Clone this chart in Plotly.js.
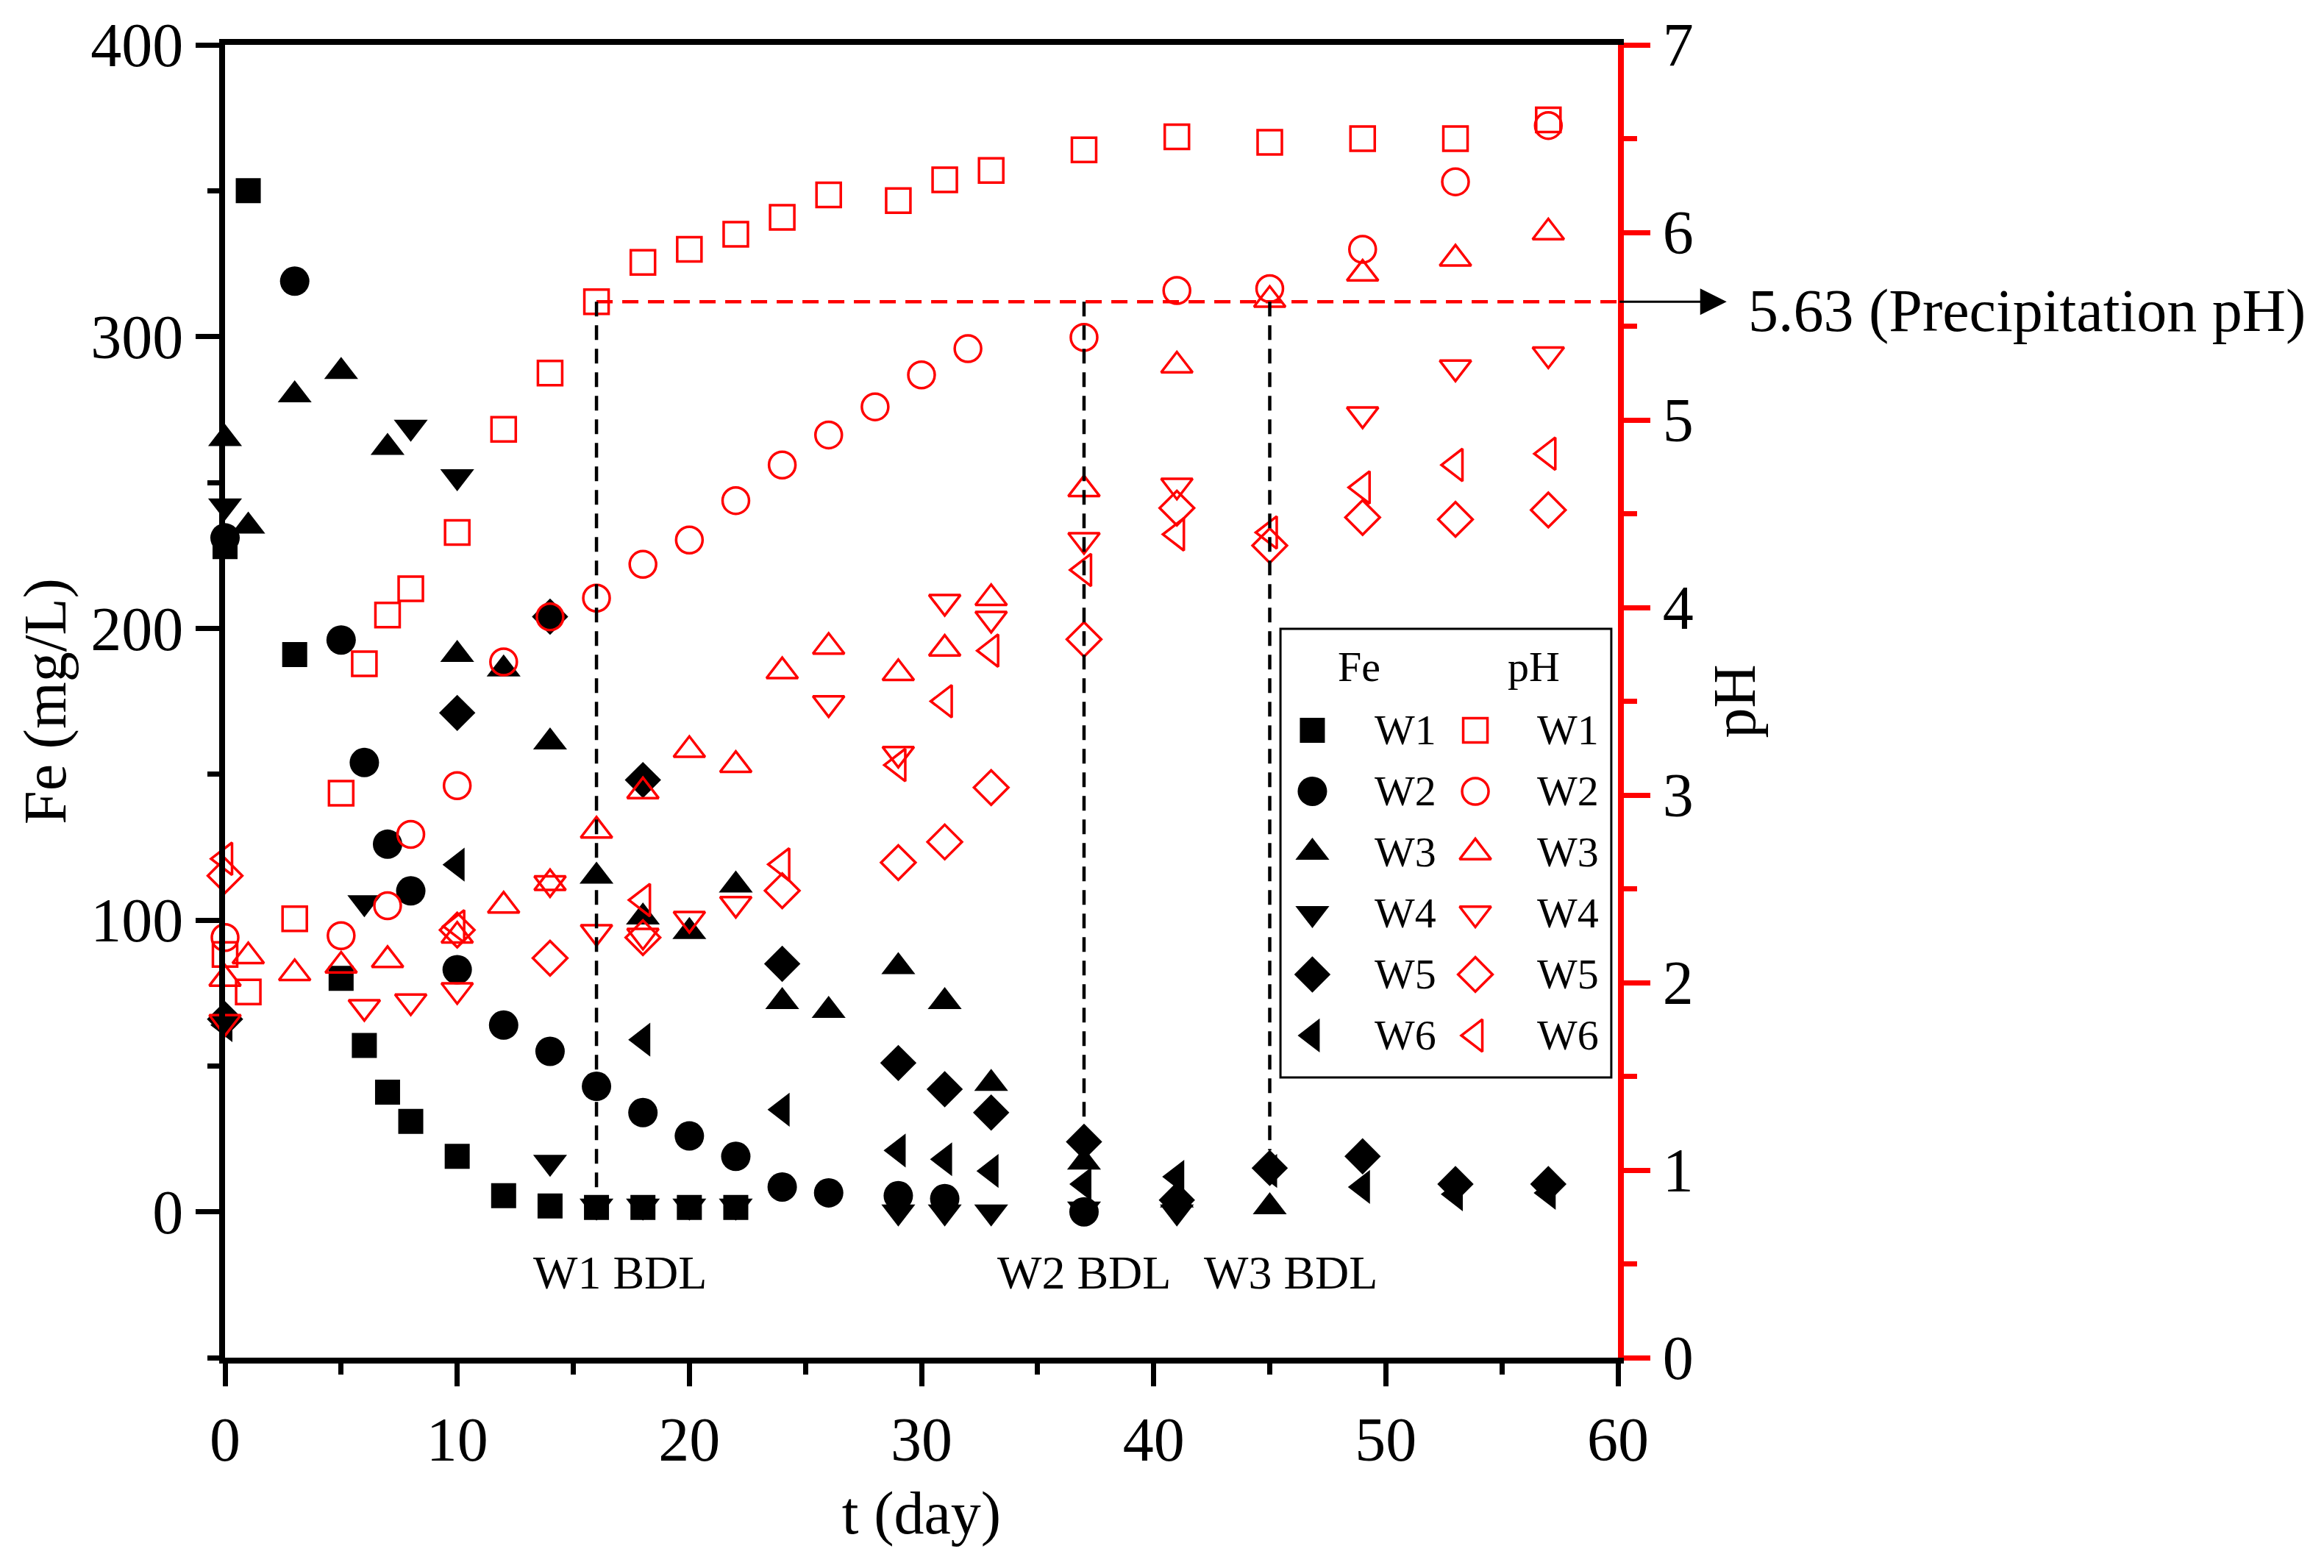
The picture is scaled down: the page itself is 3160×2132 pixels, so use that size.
<!DOCTYPE html>
<html>
<head>
<meta charset="utf-8">
<script src="https://cdn.plot.ly/plotly-3.0.1.min.js"></script>
<style>
  html, body { margin: 0; padding: 0; background: #fff; }
  #graphs-div { width: 3160px; height: 2132px; }
</style>
</head>
<body>
<div id="graphs-div"></div>
<script>
// SAMPLE NAMES
const wells = ['W1', 'W2', 'W3', 'W4', 'W5', 'W6'];

// FE CONCENTRATION (mg/L) AGAINST TIME (day)
const feDaysW1 = [0, 1, 3, 5, 6, 7, 8, 10, 12, 14, 16, 18, 20, 22];
const feW1 = [228, 350, 191, 80, 57, 41, 31, 19, 5.5, 2, 1.5, 1.5, 1.5, 1.5];
const feDaysW2 = [0, 3, 5, 6, 7, 8, 10, 12, 14, 16, 18, 20, 22, 24, 26, 29, 31, 37];
const feW2 = [231, 319, 196, 154, 126, 110, 83, 64, 55, 43, 34, 26, 19, 8.5, 6.5, 5.5, 4.5, 0];
const feDaysW3 = [0, 1, 3, 5, 7, 10, 12, 14, 16, 18, 20, 22, 24, 26, 29, 31, 33, 37, 41, 45];
const feW3 = [265, 235, 280, 288, 262, 191, 186, 161, 115, 101, 96, 112, 72, 69, 84, 72, 44, 17, 4, 1.7];
const feDaysW4 = [0, 6, 8, 10, 14, 16, 18, 20, 22, 29, 31, 33, 37, 41];
const feW4 = [242, 106, 269, 252, 17, 2, 2, 2, 2, 0, 0, 0, 1, 0];
const feDaysW5 = [0, 10, 14, 18, 24, 29, 31, 33, 37, 41, 45, 49, 53, 57];
const feW5 = [66, 171, 204, 148, 85, 51, 42, 34, 24, 4, 15, 19, 9.5, 9.5];
const feDaysW6 = [0, 10, 18, 24, 29, 31, 33, 37, 41, 45, 49, 53, 57];
const feW6 = [64, 119, 59, 35, 21, 18, 14, 9.5, 12, 14, 8.5, 6, 6.5];

// PH AGAINST TIME (day)
const phDaysW1 = [0, 1, 3, 5, 6, 7, 8, 10, 12, 14, 16, 18, 20, 22, 24, 26, 29, 31, 33, 37, 41, 45, 49, 53, 57];
const phW1 = [2.15, 1.95, 2.34, 3.01, 3.70, 3.96, 4.10, 4.40, 4.95, 5.25, 5.63, 5.84, 5.91, 5.99, 6.08, 6.20, 6.17, 6.28, 6.33, 6.44, 6.51, 6.48, 6.50, 6.50, 6.60];
const phDaysW2 = [0, 5, 7, 8, 10, 12, 14, 16, 18, 20, 22, 24, 26, 28, 30, 32, 37, 41, 45, 49, 53, 57];
const phW2 = [2.24, 2.25, 2.41, 2.79, 3.05, 3.71, 3.95, 4.05, 4.23, 4.36, 4.57, 4.76, 4.92, 5.07, 5.24, 5.38, 5.44, 5.69, 5.70, 5.91, 6.27, 6.57];
const phDaysW3 = [0, 1, 3, 5, 7, 10, 12, 14, 16, 18, 20, 22, 24, 26, 29, 31, 33, 37, 41, 45, 49, 53, 57];
const phW3 = [2.02, 2.14, 2.05, 2.09, 2.12, 2.25, 2.41, 2.53, 2.81, 3.02, 3.24, 3.16, 3.66, 3.79, 3.65, 3.78, 4.05, 4.63, 5.29, 5.64, 5.78, 5.86, 6.00];
const phDaysW4 = [0, 6, 8, 10, 14, 16, 18, 20, 22, 26, 29, 31, 33, 37, 41, 49, 53, 57];
const phW4 = [1.79, 1.87, 1.90, 1.96, 2.53, 2.27, 2.25, 2.34, 2.42, 3.49, 3.22, 4.03, 3.94, 4.36, 4.65, 5.03, 5.28, 5.35];
const phDaysW5 = [0, 10, 14, 18, 24, 29, 31, 33, 37, 41, 45, 49, 53, 57];
const phW5 = [2.57, 2.28, 2.13, 2.24, 2.49, 2.64, 2.75, 3.04, 3.83, 4.53, 4.33, 4.48, 4.47, 4.52];
const phDaysW6 = [0, 10, 18, 24, 29, 31, 33, 37, 41, 45, 49, 53, 57];
const phW6 = [2.66, 2.30, 2.44, 2.63, 3.16, 3.50, 3.77, 4.20, 4.39, 4.40, 4.64, 4.76, 4.82];

// PRECIPITATION PH AND THE DAYS EACH WELL WENT BELOW DETECTION LIMIT
const precipitationPH = 5.63;
const bdlDays = [16, 37, 45];
const bdlLabels = ['W1 BDL', 'W2 BDL', 'W3 BDL'];
const bdlLineBottomFe = [5, 29, 21];

const feDays = [feDaysW1, feDaysW2, feDaysW3, feDaysW4, feDaysW5, feDaysW6];
const feValues = [feW1, feW2, feW3, feW4, feW5, feW6];
const phDays = [phDaysW1, phDaysW2, phDaysW3, phDaysW4, phDaysW5, phDaysW6];
const phValues = [phW1, phW2, phW3, phW4, phW5, phW6];

// AXIS RANGES
const FE_RANGE = [-50, 400];
const PH_RANGE = [0, 7];
const FONT = '"Liberation Serif", "Times New Roman", serif';

// marker look for each well (filled for Fe, open for pH)
const symbols = ['square', 'circle', 'triangle-up', 'triangle-down', 'diamond', 'triangle-left'];
const feSizes = [34, 40, 40, 40, 38, 40];
const phSizes = [33, 36, 37, 37, 36, 38];

// FUNCTION TO CONVERT A PH VALUE TO THE FE AXIS (both share the plot height)
function phToFe(p) {
    return FE_RANGE[0] + (p - PH_RANGE[0]) * (FE_RANGE[1] - FE_RANGE[0]) / (PH_RANGE[1] - PH_RANGE[0]);
}

var data = [];
// Fe traces, black filled
for (let i = 0; i < wells.length; i++) {
    data.push({
        x: feDays[i], y: feValues[i],
        xaxis: 'x', yaxis: 'y',
        mode: 'markers', type: 'scatter', name: 'Fe ' + wells[i],
        cliponaxis: false,
        marker: { symbol: symbols[i], size: feSizes[i], color: 'black', opacity: 1, line: { width: 0 } }
    });
}
// pH traces, red open (on right axis)
for (let i = 0; i < wells.length; i++) {
    data.push({
        x: phDays[i], y: phValues[i],
        xaxis: 'x', yaxis: 'y2',
        mode: 'markers', type: 'scatter', name: 'pH ' + wells[i],
        cliponaxis: false,
        marker: { symbol: symbols[i] + '-open', size: phSizes[i], color: 'red', opacity: 1, line: { width: 3.5, color: 'red' } }
    });
}

// LEGEND BOX, drawn on a hidden 0..1 overlay axis so the keys can be as big as the chart markers
const legendBox = { x0: 0.7577, x1: 0.9952, y0: 0.2134, y1: 0.5552 };
const legendRow0 = 0.4779, legendRowStep = 0.0465;
const legendKeyX = [0.7806, 0.8976];
const legendTextX = [0.8242, 0.9409];
let rowsY = wells.map((w, i) => legendRow0 - i * legendRowStep);

data.push({
    x: wells.map(() => legendKeyX[0]), y: rowsY,
    xaxis: 'x2', yaxis: 'y3', mode: 'markers', type: 'scatter', hoverinfo: 'skip', cliponaxis: false,
    marker: { symbol: symbols, size: feSizes, color: 'black', opacity: 1, line: { width: 0 } }
});
data.push({
    x: wells.map(() => legendKeyX[1]), y: rowsY,
    xaxis: 'x2', yaxis: 'y3', mode: 'markers', type: 'scatter', hoverinfo: 'skip', cliponaxis: false,
    marker: { symbol: symbols.map(s => s + '-open'), size: phSizes, color: 'red', opacity: 1, line: { width: 3.5, color: 'red' } }
});

var annotations = [];
// legend headers and labels
annotations.push({ xref: 'paper', yref: 'paper', x: 0.8142, y: 0.5263, text: 'Fe', showarrow: false, font: { size: 58 }, xanchor: 'center', yanchor: 'middle' });
annotations.push({ xref: 'paper', yref: 'paper', x: 0.9393, y: 0.5263, text: 'pH', showarrow: false, font: { size: 58 }, xanchor: 'center', yanchor: 'middle' });
for (let i = 0; i < wells.length; i++) {
    for (let c = 0; c < 2; c++) {
        annotations.push({
            xref: 'paper', yref: 'paper', x: legendTextX[c], y: rowsY[i], text: wells[i],
            showarrow: false, font: { size: 58 }, xanchor: 'left', yanchor: 'middle'
        });
    }
}
// BDL labels
const bdlLabelX = [17.0, 37.0, 45.9];
for (let i = 0; i < bdlLabels.length; i++) {
    annotations.push({
        xref: 'x', yref: 'y', x: bdlLabelX[i], y: -21, text: bdlLabels[i],
        showarrow: false, font: { size: 64 }, xanchor: 'center', yanchor: 'middle'
    });
}
// arrow from the right axis pointing at the precipitation label
annotations.push({
    xref: 'paper', yref: 'y2', x: 1.078, y: precipitationPH, ax: -147, ay: 0,
    text: '', showarrow: true, arrowhead: 2, arrowsize: 2.4, arrowwidth: 3, arrowcolor: 'black'
});
annotations.push({
    xref: 'paper', yref: 'y2', x: 1.0924, y: precipitationPH, yshift: -12,
    text: precipitationPH.toFixed(2) + ' (Precipitation pH)', showarrow: false,
    font: { size: 82 }, xanchor: 'left', yanchor: 'middle'
});

var shapes = [];
// horizontal red dashed line at precipitation pH
shapes.push({
    type: 'line', xref: 'x', yref: 'y2', x0: bdlDays[0], x1: 60, y0: precipitationPH, y1: precipitationPH,
    line: { color: 'red', width: 4.5, dash: '22px,13px' }
});
// vertical black dashed lines down to each BDL day
for (let i = 0; i < bdlDays.length; i++) {
    shapes.push({
        type: 'line', xref: 'x', yref: 'y', x0: bdlDays[i], x1: bdlDays[i],
        y0: phToFe(precipitationPH), y1: bdlLineBottomFe[i],
        line: { color: 'black', width: 4.5, dash: '20px,12px' }
    });
}
// legend frame
shapes.push({
    type: 'rect', xref: 'paper', yref: 'paper',
    x0: legendBox.x0, x1: legendBox.x1, y0: legendBox.y0, y1: legendBox.y1,
    line: { color: 'black', width: 3 }, fillcolor: 'rgba(0,0,0,0)'
});

var layout = {
    width: 3160, height: 2132,
    margin: { l: 306, r: 960, t: 61, b: 286 },
    paper_bgcolor: 'white', plot_bgcolor: 'white',
    font: { family: FONT, size: 84, color: 'black' },
    showlegend: false,
    xaxis: {
        range: [0, 60], tick0: 0, dtick: 10, ticks: 'outside', ticklen: 31, tickwidth: 7, tickcolor: 'black',
        showline: true, linewidth: 8, linecolor: 'black', mirror: true, showgrid: false, zeroline: false,
        minor: { dtick: 5, ticks: 'outside', ticklen: 15, tickwidth: 7, tickcolor: 'black' },
        tickfont: { size: 84 }, title: { text: 't (day)', font: { size: 82 }, standoff: 28 }
    },
    yaxis: {
        range: FE_RANGE, tick0: 0, dtick: 100, ticks: 'outside', ticklen: 32, tickwidth: 7, tickcolor: 'black',
        showline: true, linewidth: 8, linecolor: 'black', showgrid: false, zeroline: false,
        minor: { dtick: 50, ticks: 'outside', ticklen: 16, tickwidth: 7, tickcolor: 'black' },
        tickfont: { size: 84 }, title: { text: 'Fe (mg/L)', font: { size: 82 }, standoff: 10 }
    },
    yaxis2: {
        overlaying: 'y', side: 'right', range: PH_RANGE, tick0: 0, dtick: 1,
        ticks: 'outside', ticklen: 36, tickwidth: 7, tickcolor: 'red',
        showline: true, linewidth: 8, linecolor: 'red', showgrid: false, zeroline: false,
        minor: { dtick: 0.5, ticks: 'outside', ticklen: 18, tickwidth: 7, tickcolor: 'red' },
        tickfont: { size: 84, color: 'black' }, title: { text: 'pH', font: { size: 82 }, standoff: 30 }
    },
    xaxis2: { overlaying: 'x', range: [0, 1], visible: false, fixedrange: true },
    yaxis3: { overlaying: 'y', anchor: 'x2', range: [0, 1], visible: false, fixedrange: true },
    shapes: shapes,
    annotations: annotations
};

Plotly.newPlot('graphs-div', data, layout, { staticPlot: true });
</script>
</body>
</html>
